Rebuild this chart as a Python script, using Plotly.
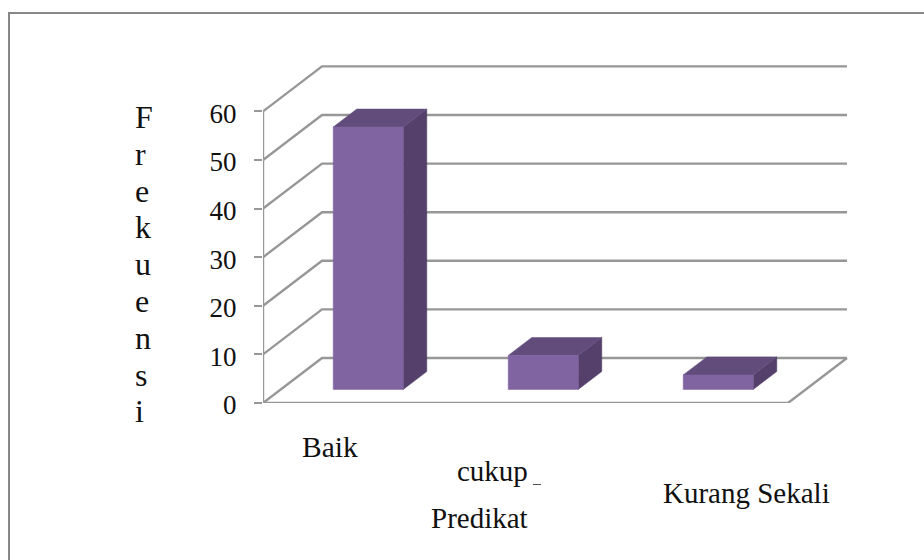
import plotly.graph_objects as go

categories = ["Baik", "cukup", "Kurang Sekali"]
values = [54, 7, 3]
y_ticks = [0, 10, 20, 30, 40, 50, 60]
y_title = "Frekuensi"
x_title = "Predikat"

W, H = 924, 560
L, R, T, B = 263, 848, 60, 403
SLOT = 175.0
UNIT = 291.6 / 60
DX, DY = 59 / SLOT, 45 / UNIT
XMIN = -0.5
XMAX = XMIN + (R - L) / SLOT
YMAX = (B - T) / UNIT
FLOOR_W = len(categories)
GRID = "#979797"
FRONT, TOP, SIDE = "#8064A2", "#624C7C", "#54406A"
SERIF = "Liberation Serif"


def px(x):
    return (x - L) / (R - L)


def py(y):
    return (B - y) / (B - T)


fig = go.Figure()


def line(xs, ys, width=2.4, color=GRID):
    fig.add_trace(go.Scatter(x=xs, y=ys, mode="lines", line=dict(color=color, width=width),
                             hoverinfo="skip", showlegend=False))


def face(xs, ys, color):
    fig.add_trace(go.Scatter(x=xs + xs[:1], y=ys + ys[:1], mode="lines", fill="toself", fillcolor=color,
                             line=dict(color=color, width=0.5), hoverinfo="skip", showlegend=False))


# walls and floor
for v in y_ticks:
    line([XMIN, XMIN + DX, XMIN + FLOOR_W + DX], [v, v + DY, v + DY])
line([XMIN, XMIN], [0, y_ticks[-1]])
line([XMIN, XMIN + FLOOR_W, XMIN + FLOOR_W + DX], [0, 0, DY])

# bars
BW = 0.4
D0, D1 = 0.3, 0.7
for i, v in enumerate(values):
    x0 = i - BW / 2 + D0 * DX
    x1 = i + BW / 2 + D0 * DX
    y0 = D0 * DY
    y1 = y0 + v
    ddx, ddy = (D1 - D0) * DX, (D1 - D0) * DY
    face([x1, x1 + ddx, x1 + ddx, x1], [y0, y0 + ddy, y1 + ddy, y1], SIDE)
    face([x0, x0 + ddx, x1 + ddx, x1], [y1, y1 + ddy, y1 + ddy, y1], TOP)
    face([x0, x1, x1, x0], [y0, y0, y1, y1], FRONT)

annotations = []


def text(s, x, y, size=29, anchor="left"):
    annotations.append(dict(text=s, x=px(x), y=py(y), xref="paper", yref="paper", xanchor=anchor,
                            yanchor="middle", showarrow=False, align="left",
                            font=dict(family=SERIF, size=size, color="#111111"),
                            borderpad=0, borderwidth=0))


text(categories[0], 301.5, 447, size=29.5)
text(categories[1], 457, 471)
text(categories[2], 663, 493)
text(x_title, 431, 518)
for k, ch in enumerate(y_title):
    text(ch, 135, 117 + k * 36.8, size=32)

shapes = [
    dict(type="path", xref="paper", yref="paper",
         path=f"M {px(9)} {py(560)} L {px(9)} {py(13)} L {px(924)} {py(13)}",
         line=dict(color="#878787", width=2)),
    dict(type="line", xref="paper", yref="paper", x0=px(533), x1=px(541), y0=py(484.5), y1=py(484.5),
         line=dict(color="#555555", width=1)),
]

fig.update_layout(
    width=W, height=H, autosize=False,
    margin=dict(l=L, r=W - R, t=T, b=H - B, pad=0),
    paper_bgcolor="white", plot_bgcolor="white", showlegend=False,
    annotations=annotations, shapes=shapes,
    xaxis=dict(range=[XMIN, XMAX], visible=False, fixedrange=True),
    yaxis=dict(range=[0, YMAX], tickvals=y_ticks, ticks="outside", ticklen=8, tickwidth=2.4, tickcolor=GRID,
               showgrid=False, zeroline=False, showline=False, fixedrange=True,
               ticklabelstandoff=12, ticklabelshift=2,
               tickfont=dict(family=SERIF, size=27, color="#111111")),
)

fig.write_html("out.html", config={"displayModeBar": False},
               post_script="document.body.style.margin='0';document.body.style.overflow='hidden';window.dispatchEvent(new Event('resize'));")
